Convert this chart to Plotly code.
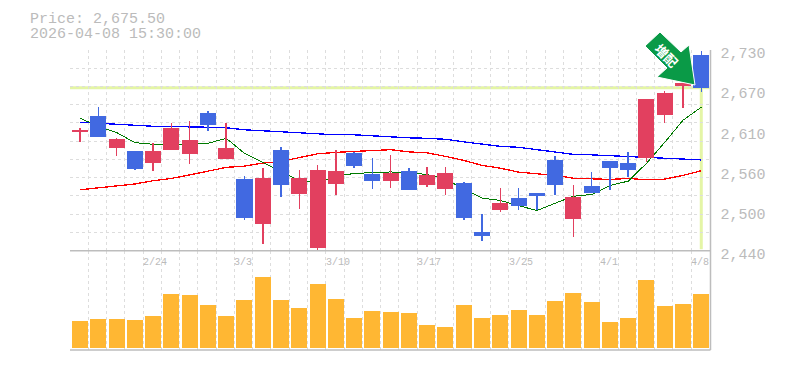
import plotly.graph_objects as go

price_labels = ["2,730", "2,670", "2,610", "2,560", "2,500", "2,440"]
price_ticks = [2730, 2672, 2614, 2556, 2498, 2440]
date_labels = ["2/24", "3/3", "3/10", "3/17", "3/25", "4/1", "4/8"]
date_index = [4, 9, 14, 19, 24, 29, 34]
header = ["Price: 2,675.50", "2026-04-08 15:30:00"]
last_close = 2675.5

open_ = [2613, 2632.9, 2589.8, 2583.6, 2567.6, 2586.5, 2580.7, 2637.2, 2573.4, 2543, 2479.2, 2585, 2522.7, 2444.4, 2537.2,
         2580.7, 2550.2, 2541.5, 2554.6, 2535.7, 2529.9, 2537.2, 2466.1, 2499.5, 2515.4, 2522.7, 2570.5, 2486.4, 2532.8, 2569,
         2566.2, 2574.9, 2637.2, 2679.3, 2721.3]
high = [2616.9, 2647.4, 2603, 2583.6, 2595.2, 2624.2, 2627, 2641.6, 2624.2, 2547.3, 2558.9, 2589.4, 2556, 2563.3, 2585,
        2582.1, 2573.4, 2577.8, 2558.9, 2560.4, 2560.4, 2538.6, 2493.7, 2529.9, 2529.9, 2522.7, 2576.3, 2534.3, 2553.1, 2569,
        2582.1, 2657.5, 2670.6, 2682.2, 2728.6]
low = [2596.6, 2604.3, 2576.7, 2556, 2554.6, 2585, 2566, 2612.6, 2573.4, 2485, 2450, 2518.3, 2500.9, 2440, 2519.8,
       2558.9, 2528.5, 2529.9, 2528.5, 2531.4, 2519.8, 2485, 2454.5, 2496.6, 2499.5, 2499.5, 2519.8, 2460.3, 2522.7, 2527,
       2545.9, 2567.6, 2624.2, 2645.9, 2669.1]
close = [2614, 2605.7, 2601, 2558.9, 2583.6, 2616.9, 2599.5, 2622.7, 2587.9, 2487.9, 2544.4, 2535.7, 2544.4, 2556, 2554.6,
         2563.3, 2541.5, 2551.7, 2528.5, 2548.8, 2551.7, 2487.9, 2461.8, 2508.2, 2505.3, 2519.8, 2535.7, 2516.9, 2524.1, 2560.4,
         2557.5, 2657.5, 2666.2, 2681.4, 2675.5]
ma_short = [2631.4, 2619.8, 2610.7, 2596.2, 2593.7, 2593, 2593.7, 2595.2, 2602.4, 2580.7, 2567.6, 2554.6, 2541.5, 2538.6, 2547.3,
            2551.7, 2552.4, 2553.8, 2552.4, 2550.2, 2543, 2529.9, 2516.1, 2512.5, 2505.3, 2498, 2508.6, 2518.7, 2521.2, 2534.3,
            2540.5, 2566.2, 2596.6, 2628.5, 2647.4]
ma_mid = [2528, 2530.6, 2533.2, 2536.4, 2541.1, 2544.4, 2549.5, 2554.6, 2560.4, 2562.2, 2566.6, 2569, 2574.9, 2580, 2582.1,
          2583.6, 2585, 2586, 2582.8, 2581.4, 2576.3, 2570.5, 2563.3, 2559.3, 2553.5, 2551, 2548.8, 2544.8, 2544, 2543,
          2544.4, 2542.5, 2543.4, 2548.8, 2555.6]
ma_long = [2625.6, 2624.2, 2622.3, 2620.8, 2619.8, 2619.4, 2619.4, 2618.4, 2617.6, 2614.7, 2613.3, 2612.1, 2610.4, 2609, 2607.5,
           2607.5, 2606, 2603.8, 2603.1, 2602.4, 2601, 2597.3, 2593.7, 2590.8, 2589.4, 2586, 2582.1, 2579.2, 2578.5, 2577.3,
           2575.3, 2574.9, 2573.4, 2572, 2571.2]
volume = [27, 29, 29, 28, 32, 54, 53, 43, 32, 48, 71, 48, 40, 64, 49, 30, 37, 36, 35, 23, 21, 43, 30, 33, 38, 33, 47, 55, 46, 26,
          30, 68, 42, 44, 54]
index = list(range(len(close)))

W, H = 785, 370
L, R = 70, 709.5
P_TOP, P_BOT = 50, 250.7
V_BOT = 350
X_SHIFT = 0.05
MONO = "Liberation Mono"
GRID = "#dddddd"
AXIS = "#bdbdbd"
TXT = "#bbbbbb"
RED = "#e2405f"
BLUE = "#4169e1"
HILITE = "#e4f5a6"
DASH = "3px,3px"

fig = go.Figure()
for series, color, lw in [(ma_long, "#0000ff", 1.3), (ma_mid, "#ff0000", 1.3), (ma_short, "#007a00", 1.0)]:
    fig.add_trace(go.Scatter(x=index, y=series, mode="lines", xaxis="x", yaxis="y3",
                             line=dict(color=color, width=lw, shape="linear"), showlegend=False, hoverinfo="skip"))
fig.add_trace(go.Candlestick(
    x=index, open=open_, high=high, low=low, close=close, xaxis="x", yaxis="y",
    increasing=dict(line=dict(color=RED, width=1.5), fillcolor=RED),
    decreasing=dict(line=dict(color=BLUE, width=1.5), fillcolor=BLUE),
    whiskerwidth=0, showlegend=False, hoverinfo="skip"))
fig.add_trace(go.Bar(x=index, y=volume, xaxis="x2", yaxis="y2", marker=dict(color="#ffb733", line=dict(width=0)),
                     width=16 / 18.27, showlegend=False, hoverinfo="skip"))

band_edges = [i - 0.5 - X_SHIFT for i in range(len(index) + 1)]
xbase = dict(range=[-0.5 - X_SHIFT, 34.5 - X_SHIFT], tickmode="array", tickvals=band_edges, showticklabels=False,
             showgrid=True, gridcolor=GRID, griddash=DASH, gridwidth=1, zeroline=False, ticks="", showline=False,
             domain=[L / W, R / W], automargin=False)
fig.update_layout(
    width=W, height=H, margin=dict(l=0, r=0, t=0, b=0, autoexpand=False), paper_bgcolor="white", plot_bgcolor="white",
    boxgap=0.206, boxgroupgap=0, bargap=0, showlegend=False,
    xaxis=dict(**xbase, anchor="y", rangeslider=dict(visible=False)),
    xaxis2=dict(**xbase, anchor="y2"),
    yaxis=dict(domain=[1 - P_BOT / H, 1 - P_TOP / H], range=[2440, 2730], anchor="x", side="right",
               tickmode="array", tickvals=price_ticks, ticktext=price_labels, showgrid=False, zeroline=False,
               ticks="", ticklabelposition="outside", ticklabelstandoff=10, ticklabelshift=3, automargin=False,
               tickfont=dict(family=MONO, size=15, color=TXT)),
    yaxis3=dict(domain=[1 - P_BOT / H, 1 - P_TOP / H], range=[2440, 2730], anchor="x", overlaying=None,
                tickmode="array", tickvals=[2440 + 290 * i / 11 for i in range(12)], showticklabels=False, showgrid=True,
                gridcolor=GRID, griddash=DASH, zeroline=False, ticks="", automargin=False),
    yaxis2=dict(domain=[1 - V_BOT / H, 1 - P_BOT / H], range=[-2, 97], anchor="x2", showticklabels=False, showgrid=False,
                zeroline=False, ticks="", automargin=False),
)
fig.update_layout(yaxis=dict(overlaying="y3"))

for yy, txt in zip((19.5, 34.5), header):
    fig.add_annotation(xref="paper", yref="paper", x=30 / W, y=1 - yy / H, text=txt, showarrow=False, xanchor="left",
                       yanchor="middle", font=dict(family=MONO, size=15, color=TXT), xshift=-1, borderpad=0)
for i, lab in zip(date_index, date_labels):
    fig.add_annotation(xref="x2", yref="paper", x=i - 0.5 - X_SHIFT, y=1 - 262 / H, text=lab, showarrow=False, xanchor="left",
                       yanchor="middle", font=dict(family=MONO, size=10, color=TXT), xshift=-2)

shapes = [
    dict(type="line", xref="paper", yref="y3", x0=L / W, x1=R / W, y0=last_close, y1=last_close, layer="below",
         line=dict(color=HILITE, width=3)),
    dict(type="line", xref="x", yref="y3", x0=34, x1=34, y0=last_close, y1=2442, layer="below",
         line=dict(color=HILITE, width=3)),
    dict(type="line", xref="paper", yref="paper", x0=L / W, x1=(R + 1) / W, y0=1 - P_BOT / H, y1=1 - P_BOT / H,
         line=dict(color=AXIS, width=1.5)),
    dict(type="line", xref="paper", yref="paper", x0=L / W, x1=(R + 1) / W, y0=1 - V_BOT / H, y1=1 - V_BOT / H,
         line=dict(color=AXIS, width=1.5)),
    dict(type="line", xref="paper", yref="paper", x0=(R + 1) / W, x1=(R + 1) / W, y0=1 - V_BOT / H, y1=1 - P_TOP / H,
         line=dict(color=AXIS, width=1.5)),
]
pts = [(660, 32), (645, 46), (667, 68), (657, 77), (695, 85), (689, 45), (681, 52)]
path = "M " + " L ".join(f"{x / W:.5f},{1 - y / H:.5f}" for x, y in pts) + " Z"
shapes.append(dict(type="path", xref="paper", yref="paper", path=path, fillcolor="#0a9a47", line=dict(color="#ffffff", width=1), layer="above"))
fig.update_layout(shapes=shapes)
fig.add_annotation(xref="paper", yref="paper", x=667 / W, y=1 - 55 / H, text="<b>増配</b>", showarrow=False, textangle=45,
                   xanchor="center", yanchor="middle",
                   font=dict(family="Noto Sans CJK JP", size=13, color="white"))

post = """
document.body.style.margin='0';
var st=document.createElement('style');
st.textContent='.scatterlayer path,.boxlayer path,.gridlayer path{shape-rendering:crispEdges !important}';
document.head.appendChild(st);
"""
fig.write_html("out.html", config={"displayModeBar": False}, post_script=post)
